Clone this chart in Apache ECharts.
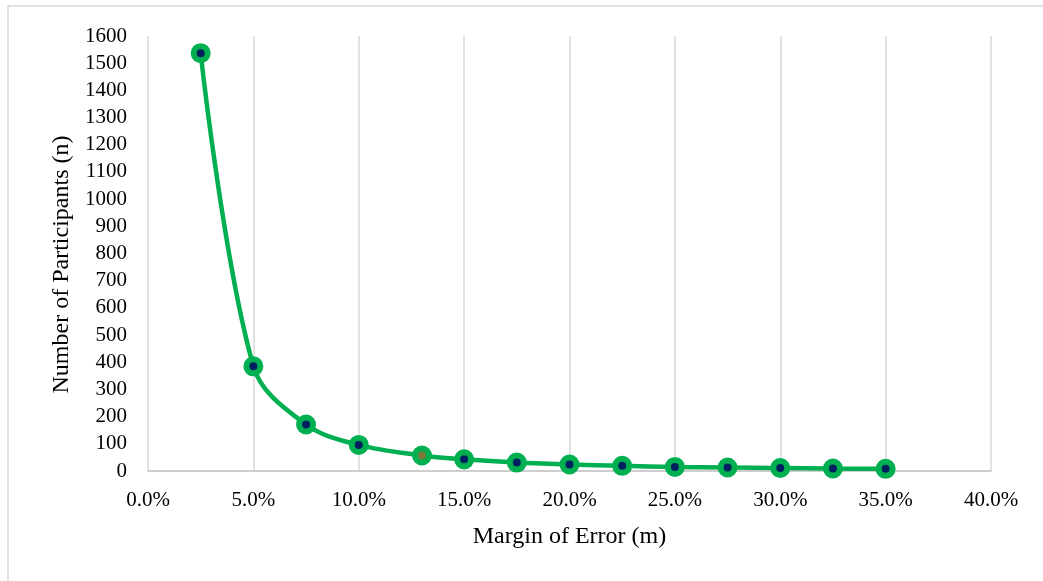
<!DOCTYPE html>
<html lang="en">
<head>
  <meta charset="utf-8">
  <style>
    html, body { margin: 0; height: 100%; background: #fff; }
    #chart { width: 1043px; height: 581px; }
  </style>
</head>
<body>
  <div id="chart"></div>
  <script src="https://cdn.jsdelivr.net/npm/echarts@6/dist/echarts.min.js"></script>
  <script>
    // margin of error (%) and sample size
    const marginOfError = [2.5, 5, 7.5, 10, 13, 15, 17.5, 20, 22.5, 25, 27.5, 30, 32.5, 35];
    const participants = [1537, 385, 171, 96, 57, 43, 31, 24, 19, 15, 13, 11, 9, 8];

    const green = '#00B050';
    const navy = '#002060';
    const font = '"Liberation Serif", "Times New Roman", serif';

    var chart = echarts.init(document.getElementById('chart'), null, { renderer: 'canvas' });

    var points = marginOfError.map(function (m, i) {
      var p = { value: [m, participants[i]] };
      // the 13% point has an odd coloured centre in the original
      if (m === 13) p.itemStyle = { color: '#7a7a3a' };
      return p;
    });

    var option = {
      backgroundColor: '#fff',
      animation: false,
      graphic: [{
        type: 'rect',
        shape: { x: 8, y: 6, width: 1100, height: 700 },
        style: { fill: 'none', stroke: '#d9d9d9', lineWidth: 1.5 },
        silent: true
      }],
      grid: { left: 148, right: 52, top: 36, bottom: 110 },
      xAxis: {
        type: 'value',
        min: 0,
        max: 40,
        interval: 5,
        name: 'Margin of Error (m)',
        nameLocation: 'middle',
        nameGap: 54,
        nameTextStyle: { fontFamily: font, fontSize: 24, color: '#000' },
        axisLine: { show: true, lineStyle: { color: '#bfbfbf', width: 1.5 } },
        axisTick: { show: false },
        axisLabel: {
          fontFamily: font, fontSize: 21, color: '#000', margin: 19,
          formatter: function (v) { return v.toFixed(1) + '%'; }
        },
        splitLine: { show: true, lineStyle: { color: '#d9d9d9', width: 1.5 } }
      },
      yAxis: {
        type: 'value',
        min: 0,
        max: 1600,
        interval: 100,
        name: 'Number of Participants (n)',
        nameLocation: 'middle',
        nameGap: 74,
        nameTextStyle: { fontFamily: font, fontSize: 24, color: '#000', padding: [0, 22, 0, 0] },
        axisLine: { show: false },
        axisTick: { show: false },
        axisLabel: {
          fontFamily: font, fontSize: 21, color: '#000', margin: 21,
          formatter: function (v) { return String(v); }
        },
        splitLine: { show: false }
      },
      series: [{
        type: 'line',
        data: points,
        smooth: 0.35,
        symbol: 'circle',
        symbolSize: 14,
        lineStyle: { color: green, width: 4.5 },
        itemStyle: { color: navy, borderColor: green, borderWidth: 6 }
      }]
    };

    chart.setOption(option);
  </script>
</body>
</html>
